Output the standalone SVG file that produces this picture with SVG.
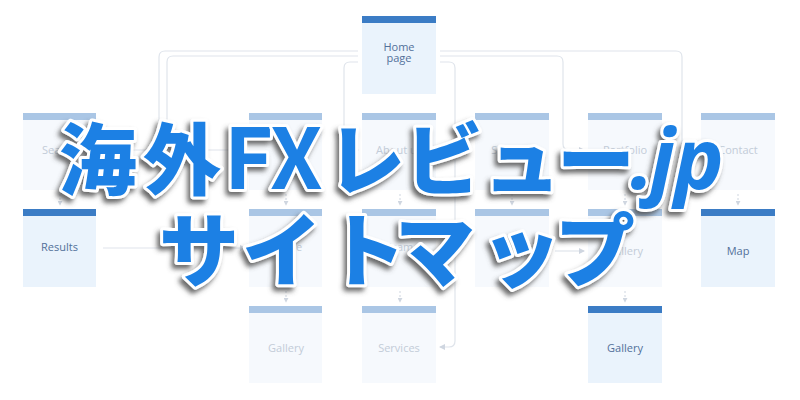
<svg xmlns="http://www.w3.org/2000/svg" width="800" height="400" viewBox="0 0 800 400">
<defs>
<style>
.box{fill:#f6f9fd}
.hdr{fill:#aac6e5}
.lbl{font-family:"Open Sans","Liberation Sans",sans-serif;font-size:11px;fill:#c3ccd8;text-anchor:middle}
.on .box{fill:#eaf3fc}
.on .hdr{fill:#3b7cc5}
.on .lbl{fill:#52709a}
.con{fill:none;stroke:#dfe4eb;stroke-width:1.2}
.dash{fill:none;stroke:#cfd6e0;stroke-width:1;stroke-dasharray:2 2}
.big{font-family:"Noto Sans CJK JP","Noto Sans",sans-serif;font-weight:900;fill:#1d80e4;stroke:#ffffff;stroke-width:6;stroke-linejoin:round;paint-order:stroke;filter:url(#sh)}
.fx{font-weight:700}
.lat{font-family:"Open Sans","Noto Sans",sans-serif;font-weight:700;font-style:italic}
</style>
<marker id="ar" viewBox="0 0 6 6" refX="5" refY="3" markerWidth="5" markerHeight="5" orient="auto">
<path d="M0,0 L6,3 L0,6 z" fill="#cfd6e0"/>
</marker>
<filter id="sh" x="-10%" y="-20%" width="120%" height="150%">
<feDropShadow dx="-3" dy="4" stdDeviation="2.5" flood-color="#505050" flood-opacity="0.85"/>
</filter>
</defs>
<rect width="800" height="400" fill="#ffffff"/>

<g id="connectors">
<path class="con" d="M358,51 H165 Q159,51 159,57 V144 Q159,150 153,150 H100" marker-end="url(#ar)"/>
<path class="con" d="M358,56 H173 Q167,56 167,62 V144 Q167,150 173,150 H245" marker-end="url(#ar)"/>
<path class="con" d="M358,62 H350 Q344,62 344,68 V144 Q344,150 350,150 H358" marker-end="url(#ar)"/>
<path class="con" d="M440,51 H676 Q682,51 682,57 V144 Q682,150 688,150 H697" marker-end="url(#ar)"/>
<path class="con" d="M440,56 H557 Q563,56 563,62 V144 Q563,150 569,150 H584" marker-end="url(#ar)"/>
<path class="con" d="M440,62 H449 Q455,62 455,68 V341 Q455,347 449,347 H440" marker-end="url(#ar)"/>
<path class="con" d="M103,248 H245" marker-end="url(#ar)"/>
<path class="con" d="M555,251 H584" marker-end="url(#ar)"/>
<path class="dash" d="M60,194 V205" marker-end="url(#ar)"/>
<path class="dash" d="M286,194 V205" marker-end="url(#ar)"/>
<path class="dash" d="M400,194 V205" marker-end="url(#ar)"/>
<path class="dash" d="M512,194 V205" marker-end="url(#ar)"/>
<path class="dash" d="M625,194 V205" marker-end="url(#ar)"/>
<path class="dash" d="M738,194 V205" marker-end="url(#ar)"/>
<path class="dash" d="M286,291 V302" marker-end="url(#ar)"/>
<path class="dash" d="M400,291 V302" marker-end="url(#ar)"/>
<path class="dash" d="M625,291 V302" marker-end="url(#ar)"/>
</g>

<g id="home" class="on"><rect class="box" x="362" y="16" width="74" height="78"/><rect class="hdr" x="362" y="16" width="74" height="7"/><text class="lbl" x="399" y="51">Home</text><text class="lbl" x="399" y="62">page</text></g>

<g id="search"><rect class="box" x="23" y="113" width="73" height="77"/><rect class="hdr" x="23" y="113" width="73" height="7"/><text class="lbl" x="59.5" y="154">Search</text></g>
<g id="col2-r1"><rect class="box" x="249" y="113" width="73" height="77"/><rect class="hdr" x="249" y="113" width="73" height="7"/></g>
<g id="about"><rect class="box" x="362" y="113" width="74" height="77"/><rect class="hdr" x="362" y="113" width="74" height="7"/><text class="lbl" x="399" y="154">About us</text></g>
<g id="services-r1"><rect class="box" x="475" y="113" width="74" height="77"/><rect class="hdr" x="475" y="113" width="74" height="7"/><text class="lbl" x="512" y="154">Services</text></g>
<g id="portfolio"><rect class="box" x="588" y="113" width="74" height="77"/><rect class="hdr" x="588" y="113" width="74" height="7"/><text class="lbl" x="625" y="154">Portfolio</text></g>
<g id="contact"><rect class="box" x="701" y="113" width="74" height="77"/><rect class="hdr" x="701" y="113" width="74" height="7"/><text class="lbl" x="738" y="154">Contact</text></g>

<g id="results" class="on"><rect class="box" x="23" y="209" width="73" height="78"/><rect class="hdr" x="23" y="209" width="73" height="7"/><text class="lbl" x="59.5" y="251">Results</text></g>
<g id="article"><rect class="box" x="249" y="209" width="73" height="78"/><rect class="hdr" x="249" y="209" width="73" height="7"/><text class="lbl" x="286" y="251">Article</text></g>
<g id="team"><rect class="box" x="362" y="209" width="74" height="78"/><rect class="hdr" x="362" y="209" width="74" height="7"/><text class="lbl" x="399" y="251">Team</text></g>
<g id="col4-r2"><rect class="box" x="475" y="209" width="74" height="78"/><rect class="hdr" x="475" y="209" width="74" height="7"/></g>
<g id="gallery-r2"><rect class="box" x="588" y="209" width="74" height="78"/><rect class="hdr" x="588" y="209" width="74" height="7"/><text class="lbl" x="625" y="255">Gallery</text></g>
<g id="map" class="on"><rect class="box" x="701" y="209" width="74" height="78"/><rect class="hdr" x="701" y="209" width="74" height="7"/><text class="lbl" x="738" y="255">Map</text></g>

<g id="gallery-c2"><rect class="box" x="249" y="306" width="73" height="77"/><rect class="hdr" x="249" y="306" width="73" height="7"/><text class="lbl" x="286" y="352">Gallery</text></g>
<g id="services-r3"><rect class="box" x="362" y="306" width="74" height="77"/><rect class="hdr" x="362" y="306" width="74" height="7"/><text class="lbl" x="399" y="352">Services</text></g>
<g id="gallery-c5" class="on"><rect class="box" x="588" y="306" width="74" height="77"/><rect class="hdr" x="588" y="306" width="74" height="7"/><text class="lbl" x="625" y="352">Gallery</text></g>

<g id="title">
<text class="big" font-size="78" y="189"><tspan x="59">海</tspan><tspan x="143">外</tspan><tspan class="fx" x="224" font-size="84">F</tspan><tspan class="fx" x="270" font-size="84">X</tspan><tspan x="327">レ</tspan><tspan x="405">ビ</tspan><tspan x="483">ュ</tspan><tspan x="557">ー</tspan><tspan class="lat" x="630" font-size="84">.</tspan><tspan class="lat" x="650" font-size="84">j</tspan><tspan class="lat" x="674" font-size="84">p</tspan></text>
<text class="big" font-size="80" y="280"><tspan x="159">サ</tspan><tspan x="242">イ</tspan><tspan x="326">ト</tspan><tspan x="395">マ</tspan><tspan x="481">ッ</tspan><tspan x="555">プ</tspan></text>
</g>
</svg>
